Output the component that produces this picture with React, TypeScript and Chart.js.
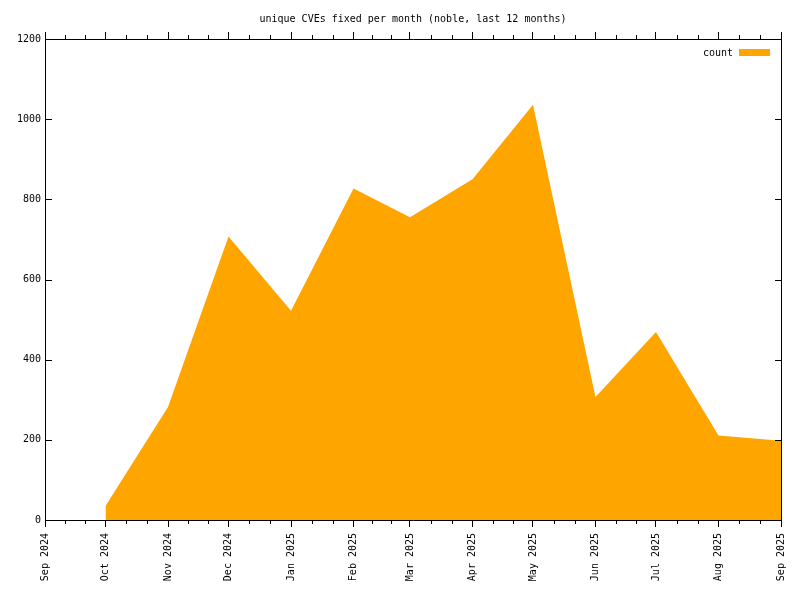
import React, { useEffect, useRef } from "react";
import { Chart, registerables } from "chart.js";

Chart.register(...registerables);

const chartTitle = "unique CVEs fixed per month (noble, last 12 months)";
const seriesLabel = "count";

const monthTicks = [
  "2024-09-01", "2024-10-01", "2024-11-01", "2024-12-01", "2025-01-01",
  "2025-02-01", "2025-03-01", "2025-04-01", "2025-05-01", "2025-06-01",
  "2025-07-01", "2025-08-01", "2025-09-01",
];
const monthTickLabels = [
  "Sep 2024", "Oct 2024", "Nov 2024", "Dec 2024", "Jan 2025",
  "Feb 2025", "Mar 2025", "Apr 2025", "May 2025", "Jun 2025",
  "Jul 2025", "Aug 2025", "Sep 2025",
];

const pointDates = [
  "2024-10-01", "2024-11-01", "2024-12-01", "2025-01-01", "2025-02-01",
  "2025-03-01", "2025-04-01", "2025-05-01", "2025-06-01", "2025-07-01",
  "2025-08-01", "2025-09-01",
];
const counts = [35, 282, 707, 522, 827, 755, 850, 1036, 307, 469, 211, 198];

const yMin = 0;
const yMax = 1200;
const yStep = 200;

const FONT_FAMILY = "'DejaVu Sans Mono', 'Liberation Mono', monospace";
const FILL = "#ffa500";

const dayOf = (s: string) =>
  (Date.parse(s) - Date.parse(monthTicks[0])) / 86400000;

const majorDays = monthTicks.map(dayOf);
const minorDays: number[] = [];
for (let i = 0; i < majorDays.length - 1; i++) {
  const a = majorDays[i];
  const b = majorDays[i + 1];
  minorDays.push(a + (b - a) / 3, a + (2 * (b - a)) / 3);
}

const tickPlugin = {
  id: "extraTicks",
  afterDraw(chart: any) {
    const { ctx, chartArea, scales } = chart;
    const xs = scales.x;
    const ys = scales.y;
    ctx.save();
    ctx.strokeStyle = "#000";
    ctx.lineWidth = 1;
    ctx.beginPath();
    for (const d of minorDays) {
      const px = Math.round(xs.getPixelForValue(d)) + 0.5;
      ctx.moveTo(px, chartArea.bottom);
      ctx.lineTo(px, chartArea.bottom + 4);
      ctx.moveTo(px, chartArea.top);
      ctx.lineTo(px, chartArea.top - 4);
    }
    for (const t of ys.ticks) {
      const py = Math.round(ys.getPixelForValue(t.value)) + 0.5;
      ctx.moveTo(chartArea.left, py);
      ctx.lineTo(chartArea.left + 7, py);
      ctx.moveTo(chartArea.right + 1, py);
      ctx.lineTo(chartArea.right - 6, py);
    }
    ctx.stroke();
    ctx.restore();
  },
};

const titleLegendPlugin = {
  id: "titleLegend",
  afterDraw(chart: any) {
    const { ctx, chartArea } = chart;
    ctx.save();
    ctx.fillStyle = "#000";
    ctx.font = `10px ${FONT_FAMILY}`;
    ctx.textAlign = "center";
    ctx.textBaseline = "middle";
    ctx.fillText(chartTitle, (chartArea.left + chartArea.right) / 2, 19.5);
    const ds = chart.data.datasets[0];
    ctx.textAlign = "right";
    ctx.fillText(ds.label, chartArea.right - 48, 53);
    ctx.fillStyle = ds.backgroundColor;
    ctx.fillRect(chartArea.right - 42, 49, 31, 7);
    ctx.restore();
  },
};

export default function App() {
  const canvasRef = useRef<HTMLCanvasElement | null>(null);

  useEffect(() => {
    if (!canvasRef.current) return;
    const font = { family: FONT_FAMILY, size: 10 };
    const setMajor = (s: any) => {
      s.ticks = majorDays.map((v) => ({ value: v }));
    };
    const chart = new Chart(canvasRef.current, {
      type: "line",
      data: {
        datasets: [
          {
            label: seriesLabel,
            data: pointDates.map((d, i) => ({ x: dayOf(d), y: counts[i] })),
            fill: "origin",
            backgroundColor: FILL,
            borderColor: "rgba(0,0,0,0)",
            borderWidth: 0,
            pointRadius: 0,
            tension: 0,
          },
        ],
      },
      options: {
        animation: false,
        responsive: false,
        maintainAspectRatio: false,
        layout: { padding: 0 },
        plugins: {
          legend: { display: false },
          title: { display: false },
          tooltip: { enabled: false },
        },
        scales: {
          x: {
            type: "linear",
            position: "bottom",
            min: majorDays[0],
            max: majorDays[majorDays.length - 1],
            afterBuildTicks: setMajor,
            afterFit: (s: any) => {
              s.height = 80;
            },
            ticks: {
              autoSkip: false,
              minRotation: 90,
              maxRotation: 90,
              padding: 6,
              color: "#000",
              font,
              callback: (_v: any, i: number) => monthTickLabels[i],
            },
            grid: {
              drawOnChartArea: false,
              drawTicks: true,
              tickLength: 7,
              tickColor: "#000",
              tickWidth: 1,
              color: "#000",
            },
            border: { display: true, color: "#000", width: 1 },
            z: 1,
          },
          x2: {
            type: "linear",
            position: "top",
            min: majorDays[0],
            max: majorDays[majorDays.length - 1],
            afterBuildTicks: setMajor,
            afterFit: (s: any) => {
              s.height = 39;
            },
            ticks: { display: false },
            grid: {
              drawOnChartArea: false,
              drawTicks: true,
              tickLength: 7,
              tickColor: "#000",
              tickWidth: 1,
              color: "#000",
            },
            border: { display: true, color: "#000", width: 1 },
            z: 1,
          },
          y: {
            type: "linear",
            position: "left",
            min: yMin,
            max: yMax,
            afterFit: (s: any) => {
              s.width = 45;
            },
            ticks: {
              stepSize: yStep,
              padding: 4,
              color: "#000",
              font,
              callback: (v: any) => String(v),
            },
            grid: {
              drawOnChartArea: false,
              drawTicks: false,
              color: "#000",
            },
            border: { display: true, color: "#000", width: 1 },
            z: 1,
          },
          y2: {
            type: "linear",
            position: "right",
            min: yMin,
            max: yMax,
            afterFit: (s: any) => {
              s.width = 19;
            },
            ticks: { stepSize: yStep, display: false },
            grid: {
              drawOnChartArea: false,
              drawTicks: false,
              color: "#000",
            },
            border: { display: true, color: "#000", width: 1 },
            z: 1,
          },
        },
      } as any,
      plugins: [tickPlugin, titleLegendPlugin],
    });
    return () => chart.destroy();
  }, []);

  return (
    <div
      style={{
        position: "fixed",
        left: 0,
        top: 0,
        width: 800,
        height: 600,
        background: "#fff",
      }}
    >
      <canvas ref={canvasRef} width={800} height={600} />
    </div>
  );
}
